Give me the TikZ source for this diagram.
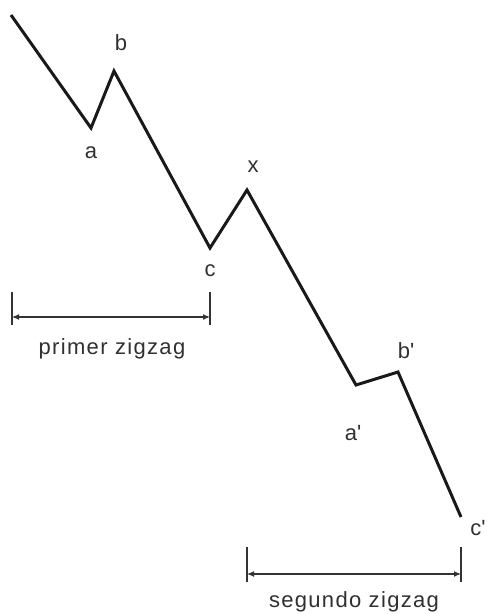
\documentclass[tikz,border=0pt]{standalone}
\usepackage{fontspec}
\setmainfont{Liberation Sans}[LetterSpace=6.0]
\usepackage{xcolor}
\usetikzlibrary{arrows.meta}
\definecolor{labelgray}{HTML}{303030}

\begin{document}
\begin{tikzpicture}[x=1pt,y=-1pt,>={Latex[length=7pt,width=6pt]},
  wave/.style={line width=3pt,line join=miter,black!90},
  lbl/.style={text=labelgray,inner sep=0pt,font=\fontsize{22}{24}\selectfont},
  span/.style={line width=1.2pt,black!80}]
  \useasboundingbox (0,0) rectangle (488,614);
  % points of the wave
  \coordinate (s) at (11,15);
  \coordinate (a) at (91,128);
  \coordinate (b) at (114,71);
  \coordinate (c) at (210,248);
  \coordinate (x) at (247,190);
  \coordinate (a2) at (356,385);
  \coordinate (b2) at (398,372);
  \coordinate (c2) at (461,517);
  \draw[wave] (s) -- (a) -- (b) -- (c) -- (x) -- (a2) -- (b2) -- (c2);
  % labels
  \node[lbl] (la) at (91,153) {a};
  \node[lbl] (lb) at (121,43) {b};
  \node[lbl] (lc) at (210,271) {c};
  \node[lbl] (lx) at (253,167) {x};
  \node[lbl] (la2) at (353,433) {a\textquotesingle};
  \node[lbl] (lb2) at (406,351) {b\textquotesingle};
  \node[lbl] (lc2) at (478,528) {c\textquotesingle};
  % first zigzag
  \coordinate (p1) at (12,292);
  \coordinate (p2) at (210,292);
  \draw[span] (p1) -- ++(0,33);
  \draw[span] (p2) -- ++(0,33);
  \coordinate (q1) at (12,317);
  \coordinate (q2) at (210,317);
  \draw[span,<->] (q1) -- (q2);
  \node[lbl] (t1) at (112,349) {primer zigzag};
  % second zigzag
  \coordinate (r1) at (247,547);
  \coordinate (r2) at (461,547);
  \draw[span] (r1) -- ++(0,35);
  \draw[span] (r2) -- ++(0,35);
  \coordinate (u1) at (247,574);
  \coordinate (u2) at (461,574);
  \draw[span,<->] (u1) -- (u2);
  \node[lbl] (t2) at (354,602) {segundo zigzag};
\end{tikzpicture}
\end{document}
